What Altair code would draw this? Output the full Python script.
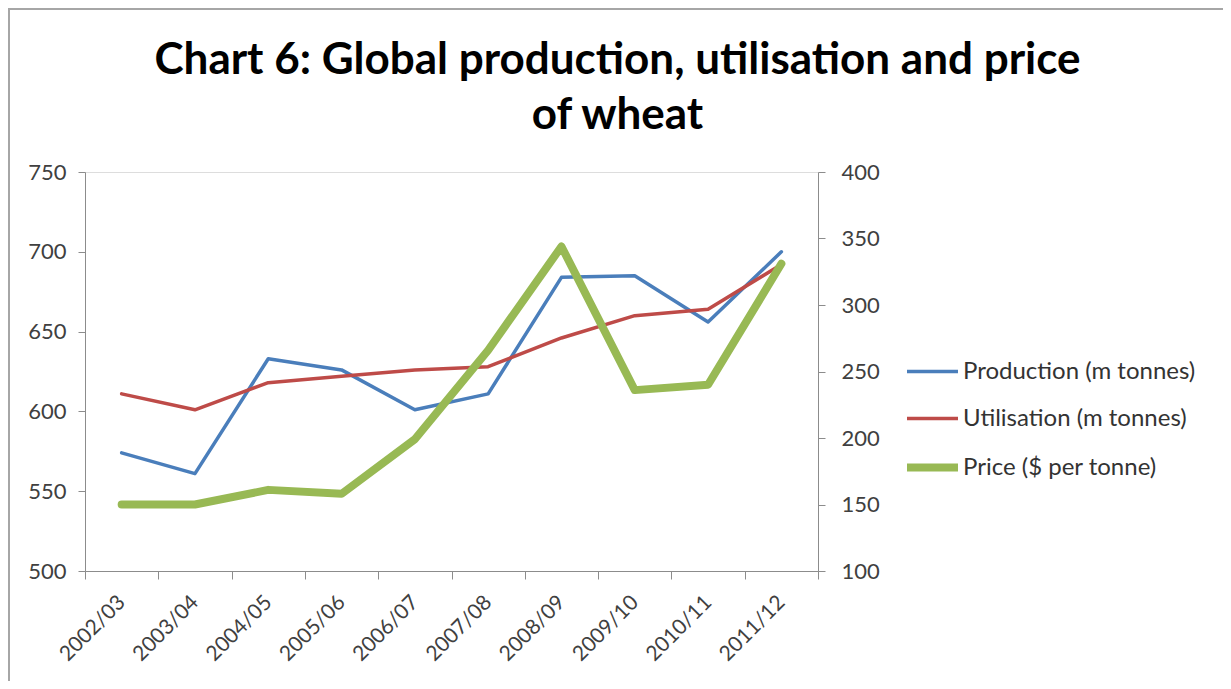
import altair as alt
import pandas as pd

seasons = ["2002/03", "2003/04", "2004/05", "2005/06", "2006/07",
           "2007/08", "2008/09", "2009/10", "2010/11", "2011/12"]
production = [574, 561, 633, 626, 601, 611, 684, 685, 656, 700]
utilisation = [611, 601, 618, 622, 626, 628, 646, 660, 664, 692]
price = [150, 150, 161, 158, 199, 266, 344, 236, 240, 331]

series_names = ["Production (m tonnes)", "Utilisation (m tonnes)", "Price ($ per tonne)"]
series_colors = ["#4a7ebb", "#be4b48", "#98b954"]
series_widths = [3.5, 3.5, 8]

left_ticks = [500, 550, 600, 650, 700, 750]
right_ticks = [100, 150, 200, 250, 300, 350, 400]

left_df = pd.DataFrame({
    "season": seasons * 2,
    "value": production + utilisation,
    "series": [series_names[0]] * len(seasons) + [series_names[1]] * len(seasons),
})
right_df = pd.DataFrame({
    "season": seasons,
    "value": price,
    "series": [series_names[2]] * len(seasons),
})

FONT = "Lato"
AXIS_GRAY = "#8c8c8c"
LABEL_COLOR = "#404040"

color_scale = alt.Scale(domain=series_names, range=series_colors)
width_scale = alt.Scale(type="ordinal", domain=series_names, range=series_widths)

legend = alt.Legend(
    title=None, orient="none", legendX=818, legendY=172,
    symbolType="stroke", symbolSize=2600, rowPadding=7, labelLimit=0,
    labelFont=FONT, labelFontSize=24, labelColor="#333333", labelOffset=1,
)

x_enc = alt.X(
    "season:N", sort=seasons,
    scale=alt.Scale(type="band", paddingInner=0, paddingOuter=0),
    axis=alt.Axis(
        title=None, labelAngle=-45, labelAlign="right", labelBaseline="middle",
        tickBand="extent", tickSize=8, labelPadding=20,
        labelFont=FONT, labelFontSize=21, labelColor=LABEL_COLOR,
        domainColor=AXIS_GRAY, tickColor=AXIS_GRAY, grid=False,
    ),
)

left = alt.Chart(left_df).mark_line(strokeJoin="round", strokeCap="round").encode(
    x=x_enc,
    y=alt.Y("value:Q", scale=alt.Scale(domain=[500, 750], nice=False, zero=False),
            axis=alt.Axis(title=None, values=left_ticks, orient="left", tickSize=7,
                          labelPadding=12, labelFont=FONT, labelFontSize=22,
                          labelColor=LABEL_COLOR, domainColor=AXIS_GRAY,
                          tickColor=AXIS_GRAY, grid=False)),
    color=alt.Color("series:N", scale=color_scale, legend=legend),
    strokeWidth=alt.StrokeWidth("series:N", scale=width_scale, legend=legend),
)

right = alt.Chart(right_df).mark_line(strokeJoin="round", strokeCap="round").encode(
    x=x_enc,
    y=alt.Y("value:Q", scale=alt.Scale(domain=[100, 400], nice=False, zero=False),
            axis=alt.Axis(title=None, values=right_ticks, orient="right", tickSize=7,
                          labelPadding=16, labelFont=FONT, labelFontSize=22,
                          labelColor=LABEL_COLOR, domainColor=AXIS_GRAY,
                          tickColor=AXIS_GRAY, grid=False)),
    color=alt.Color("series:N", scale=color_scale, legend=legend),
    strokeWidth=alt.StrokeWidth("series:N", scale=width_scale, legend=legend),
)

border = alt.Chart(pd.DataFrame({"a": [0]})).mark_rect(
    filled=False, stroke="#a6a6a6", strokeWidth=2
).encode(
    x=alt.value(-76), x2=alt.value(1144), y=alt.value(-163), y2=alt.value(700)
)

chart = alt.layer(border, left, right).resolve_scale(y="independent").properties(
    width=733, height=399,
    padding={"left": 77, "top": 164, "right": 405, "bottom": 110},
    autosize=alt.AutoSizeParams(type="none"),
    title=alt.TitleParams(
        text=["Chart 6: Global production, utilisation and price", "of wheat"],
        font=FONT, fontSize=44, fontWeight="bold", color="#000000",
        anchor="middle", frame="group", dx=166, offset=-130, lineHeight=55,
    ),
).configure_view(stroke=None).configure(background="white")

chart.save("out.html", embed_options={"renderer": "svg", "actions": False})
